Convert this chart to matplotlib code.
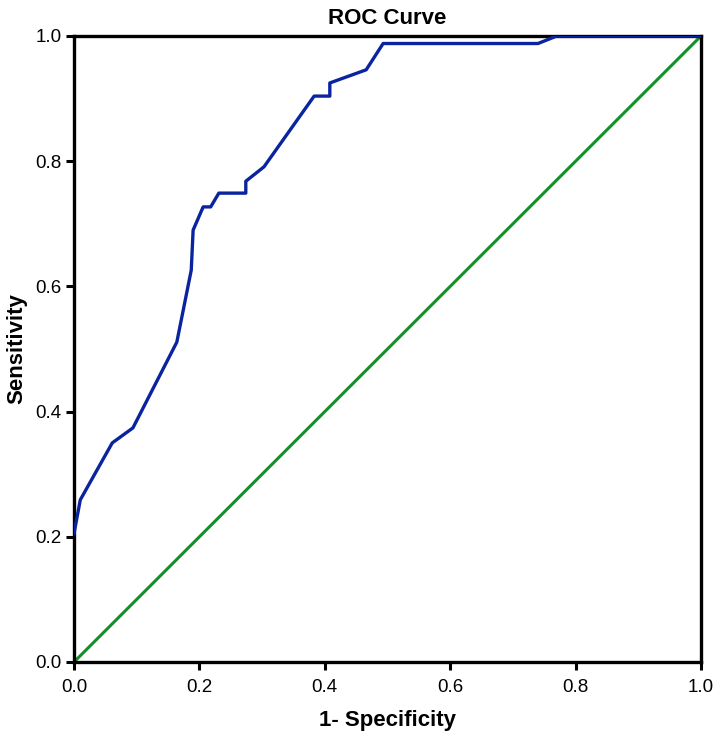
import matplotlib.pyplot as plt

plt.rcParams['font.family'] = ['Liberation Sans', 'DejaVu Sans']

# ROC curve points
fpr = [0.0, 0.010, 0.061, 0.094, 0.164, 0.187, 0.190, 0.206, 0.218, 0.231,
       0.274, 0.274, 0.303, 0.383, 0.408, 0.408, 0.466, 0.493, 0.740, 0.770, 1.0]
tpr = [0.205, 0.259, 0.350, 0.374, 0.511, 0.626, 0.690, 0.727, 0.727, 0.749,
       0.749, 0.768, 0.791, 0.904, 0.904, 0.925, 0.946, 0.988, 0.988, 1.0, 1.0]
ref_line = [0.0, 1.0]
ticks = [0.0, 0.2, 0.4, 0.6, 0.8, 1.0]

fig = plt.figure(figsize=(7.14, 7.38), dpi=100)
ax = fig.add_axes([74 / 714, 1 - 662 / 738, 627 / 714, 626 / 738])

ax.plot(ref_line, ref_line, color='#14902a', lw=2.2, zorder=2)
ax.plot(fpr, tpr, color='#0a24a0', lw=2.4, zorder=3)

ax.set_xlim(0, 1)
ax.set_ylim(0, 1)
ax.set_xticks(ticks)
ax.set_yticks(ticks)
ax.set_xticklabels([f'{t:.1f}' for t in ticks])
ax.set_yticklabels([f'{t:.1f}' for t in ticks])
ax.tick_params(direction='out', length=6, width=2.2, labelsize=13.5)
ax.tick_params(axis='x', pad=6)
ax.tick_params(axis='y', pad=3)
for s in ax.spines.values():
    s.set_linewidth(2.4)
    s.set_color('black')

ax.set_title('ROC Curve', fontsize=16, fontweight='bold', pad=9)
ax.set_xlabel('1- Specificity', fontsize=16, fontweight='bold', labelpad=10)
ax.set_ylabel('Sensitivity', fontsize=16, fontweight='bold', labelpad=6)

fig.savefig('out.png', dpi=100)
